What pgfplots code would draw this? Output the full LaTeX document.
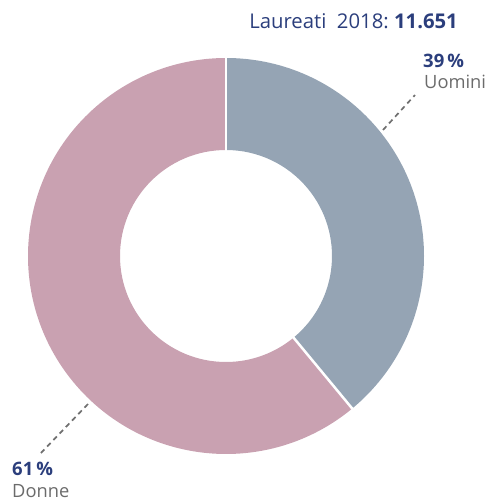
\documentclass[border=0pt]{standalone}
\usepackage{pgfplots}
\pgfplotsset{compat=1.18}
\usepackage{fontspec}
\setmainfont{Open Sans}
\definecolor{uom}{HTML}{95A4B4}
\definecolor{don}{HTML}{C9A1B1}
\definecolor{tblue}{HTML}{2B3E7C}
\definecolor{tgray}{HTML}{6B6B6B}
\definecolor{lgray}{HTML}{707070}
% data: percentages
\def\vU{39}
\def\vD{61}
\pgfmathsetmacro\eU{90-3.6*\vU}
\pgfmathsetmacro\eD{\eU-3.6*\vD}
\def\Ro{198}
\def\Ri{106}
\begin{document}
\begin{tikzpicture}
\begin{axis}[x=1pt,y=1pt,xmin=-226,xmax=265,ymin=-245,ymax=256,hide axis,clip=false]
\path (axis cs:-226,-245) rectangle (axis cs:265,256);
% Uomini
\fill[uom] (axis cs:{\Ro*cos(90)},{\Ro*sin(90)}) arc[start angle=90, end angle=\eU, radius=\Ro pt]
  -- (axis cs:{\Ri*cos(\eU)},{\Ri*sin(\eU)}) arc[start angle=\eU, end angle=90, radius=\Ri pt] -- cycle;
% Donne
\fill[don] (axis cs:{\Ro*cos(\eU)},{\Ro*sin(\eU)}) arc[start angle=\eU, end angle=\eD, radius=\Ro pt]
  -- (axis cs:{\Ri*cos(\eD)},{\Ri*sin(\eD)}) arc[start angle=\eD, end angle=\eU, radius=\Ri pt] -- cycle;
% separators
\draw[white, line width=2.5pt] (axis cs:{(\Ri-2)*cos(90)},{(\Ri-2)*sin(90)}) -- (axis cs:{(\Ro+2)*cos(90)},{(\Ro+2)*sin(90)});
\draw[white, line width=2.5pt] (axis cs:{(\Ri-2)*cos(\eU)},{(\Ri-2)*sin(\eU)}) -- (axis cs:{(\Ro+2)*cos(\eU)},{(\Ro+2)*sin(\eU)});
% leader lines
\draw[lgray, line width=1.7pt, dash pattern=on 5pt off 4pt] (axis cs:157,126) -- (axis cs:189,161);
\draw[lgray, line width=1.7pt, dash pattern=on 5pt off 4pt] (axis cs:-138,-148) -- (axis cs:-186,-198);
% labels
\node[anchor=base west, inner sep=0, text=tblue, font=\fontsize{18.5}{22}\selectfont\bfseries] at (axis cs:197,188) {\vU\,\%};
\node[anchor=base west, inner sep=0, text=tgray, font=\fontsize{18.3}{22}\selectfont] at (axis cs:198,167) {Uomini};
\node[anchor=base west, inner sep=0, text=tblue, font=\fontsize{18.5}{22}\selectfont\bfseries] at (axis cs:-214,-220) {\vD\,\%};
\node[anchor=base west, inner sep=0, text=tgray, font=\fontsize{18.3}{22}\selectfont] at (axis cs:-214,-241) {Donne};
\node[anchor=base east, inner sep=0, text=tblue, font=\fontsize{20.3}{24}\selectfont] at (axis cs:232,227) {Laureati\ \ 2018:\ \textbf{11.651}};
\end{axis}
\end{tikzpicture}
\end{document}
